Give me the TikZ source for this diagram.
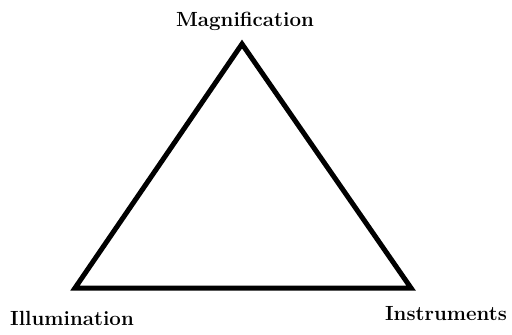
\documentclass[tikz,border=0pt]{standalone}
\usepackage{tikz}
\usetikzlibrary{positioning}

\begin{document}
\begin{tikzpicture}[
  x=1pt, y=-1pt,
  label/.style={font=\fontsize{20.5}{22}\selectfont\bfseries, inner sep=0pt},
  side/.style={line width=5pt, line join=miter, color=black}
]
\useasboundingbox (0,0) rectangle (512,335);
\coordinate (top) at (242,44);
\coordinate (left) at (75,288);
\coordinate (right) at (411,288);
\node[label] (mag) at (245,21) {Magnification};
\node[label] (ill) at (72,318) {Illumination};
\node[label] (ins) at (446,314) {Instruments};

\draw[side] (top) -- (right) -- (left) -- cycle;
\end{tikzpicture}
\end{document}
